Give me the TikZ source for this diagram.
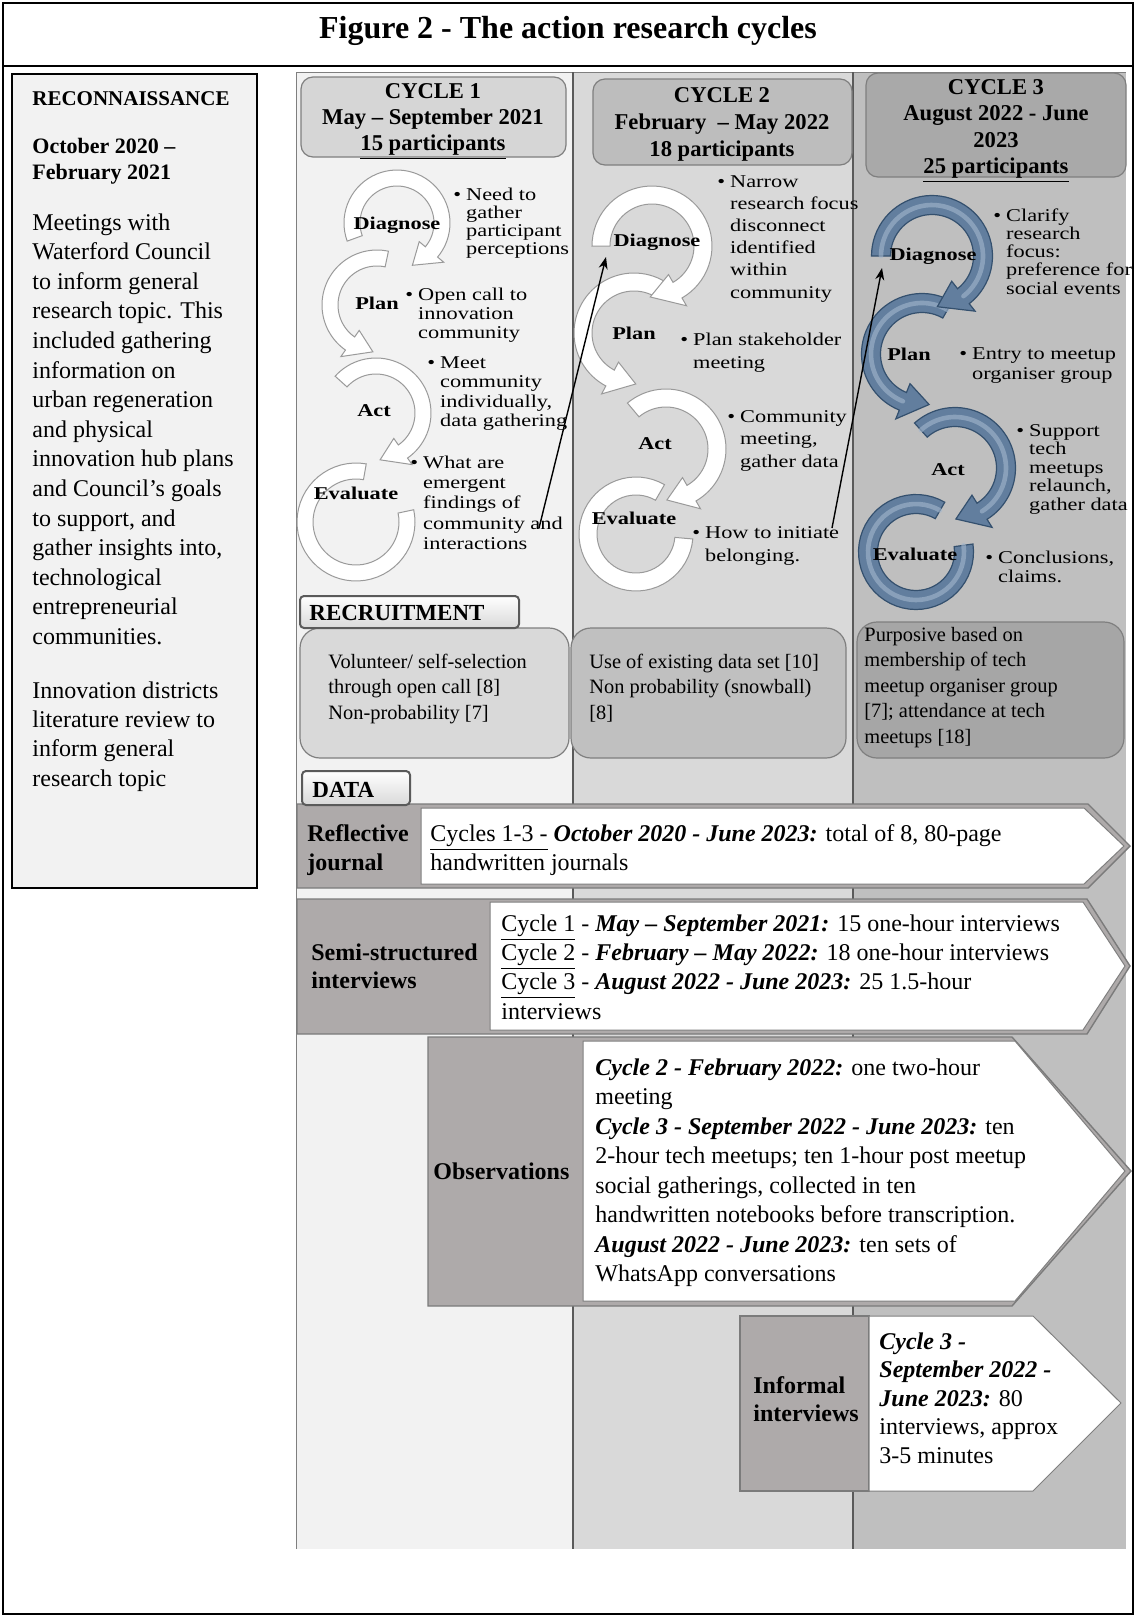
\documentclass[tikz,border=0pt]{standalone}
\usepackage{fontspec}
\setmainfont{Liberation Serif}
\newfontfamily\wideserif[FakeStretch=1.24]{Liberation Serif}
\usetikzlibrary{arrows.meta}

\definecolor{colA}{HTML}{F2F2F2}
\definecolor{colB}{HTML}{D9D9D9}
\definecolor{colC}{HTML}{BFBFBF}
\definecolor{hdrA}{HTML}{D6D6D6}
\definecolor{hdrB}{HTML}{BDBDBD}
\definecolor{hdrC}{HTML}{A9A9A9}
\definecolor{recA}{HTML}{D9D9D9}
\definecolor{recB}{HTML}{C0C0C0}
\definecolor{recC}{HTML}{A6A6A6}
\definecolor{labgray}{HTML}{AEAAAA}
\definecolor{edge}{HTML}{7F7F7F}
\definecolor{divider}{HTML}{5A5A5A}
\definecolor{ringline}{HTML}{9A9A9A}
\definecolor{ringblue}{HTML}{627E9E}
\definecolor{ringblueedge}{HTML}{34506E}
\definecolor{ringbluelight}{HTML}{A3B7CD}

% font size helper
\newcommand\fs[2]{\fontsize{#1}{#2}\selectfont}
% stacked lines, baseline on the first line
\newcommand\lines[1]{\begin{tabular}[t]{@{}l@{}}#1\end{tabular}}
\newcommand\clines[1]{\begin{tabular}[t]{@{}c@{}}#1\end{tabular}}
% bulleted block with hanging indent
\newcommand\blist[1]{\begin{tabular}[t]{@{}l@{\hspace{2.5pt}}l@{}}#1\end{tabular}}
\newcommand\bdit[1]{{\bfseries\itshape #1}}

% thick circular arrow: cx, cy, radius, width, start, end, tip angle, style
\newcommand\ringarrow[8]{%
  \pgfmathsetmacro\rgO{#3+#4/2}%
  \pgfmathsetmacro\rgI{#3-#4/2}%
  \pgfmathsetmacro\rgHO{#3+#4}%
  \pgfmathsetmacro\rgHI{#3-#4}%
  \path[#8] plot[domain=#5:#6, samples=48] ({#1+\rgO*cos(\x)},{#2+\rgO*sin(\x)})
    -- ({#1+\rgHO*cos(#6)},{#2+\rgHO*sin(#6)})
    -- ({#1+#3*cos(#7)},{#2+#3*sin(#7)})
    -- ({#1+\rgHI*cos(#6)},{#2+\rgHI*sin(#6)})
    -- plot[domain=#6:#5, samples=48] ({#1+\rgI*cos(\x)},{#2+\rgI*sin(\x)}) -- cycle;}
% thick arc without a head: cx, cy, radius, width, start, end, style
\newcommand\ringflat[7]{%
  \pgfmathsetmacro\rgO{#3+#4/2}%
  \pgfmathsetmacro\rgI{#3-#4/2}%
  \path[#7] plot[domain=#5:#6, samples=48] ({#1+\rgO*cos(\x)},{#2+\rgO*sin(\x)})
    -- plot[domain=#6:#5, samples=48] ({#1+\rgI*cos(\x)},{#2+\rgI*sin(\x)}) -- cycle;}
% highlight along the middle of a blue arc
\newcommand\ringglow[5]{%
  \draw[ringbluelight, line width=2.3pt, opacity=.6, line cap=round]
    plot[domain=#4:#5, samples=48] ({#1+#3*cos(\x)},{#2+#3*sin(\x)});}

\tikzset{
  txt/.style={inner sep=0pt, anchor=base west},
  ctxt/.style={inner sep=0pt, anchor=base},
  hdr/.style={draw=edge, line width=0.6pt, rounded corners=6pt},
  recbox/.style={draw=edge, line width=0.6pt, rounded corners=10pt},
  tabbox/.style={draw=divider, line width=1pt, rounded corners=2pt, top color=white, bottom color=colB},
  whitering/.style={fill=white, draw=ringline, line width=0.5pt},
  bluering/.style={fill=ringblue, draw=ringblueedge, line width=0.6pt},
  bul/.style={inner sep=0pt, anchor=base west},
  steplab/.style={inner sep=0pt, anchor=base, font={\wideserif\bfseries\fs{9}{10}}},
  rowouter/.style={fill=labgray, draw=divider!80, line width=0.7pt},
  rowinner/.style={fill=white, draw=edge, line width=0.5pt},
  rowlab/.style={inner sep=0pt, anchor=base west, font={\bfseries\fs{12}{14}}},
  rowtxt/.style={inner sep=0pt, anchor=base west, font={\fs{12}{14.4}}},
  link/.style={-{Stealth[length=6pt,width=4.5pt]}, line width=0.7pt, black}
}

\begin{document}
\begin{tikzpicture}[x=0.5pt,y=-0.5pt]
\useasboundingbox (0,0) rectangle (1136,1617);
\fill[white] (0,0) rectangle (1136,1617);

% outer frame and title row
\draw[line width=1.1pt] (3,3) rectangle (1133,1614);
\draw[line width=1.1pt] (3,66) -- (1133,66);
\node[ctxt, font={\bfseries\fs{16}{19}}] (title) at (568,38) {Figure 2 - The action research cycles};

% reconnaissance panel
\draw[line width=1pt, fill=colA] (12,74) rectangle (257,888);
\node[txt, font={\bfseries\fs{10.5}{13}}] (recon) at (32,105) {RECONNAISSANCE};
\node[txt, font={\bfseries\fs{11}{13}}] (recondate) at (32,153) {\lines{October 2020 –\\February 2021}};
\node[txt, font={\fs{12}{14.8}}] (reconbody) at (32,230) {\lines{Meetings with\\Waterford Council\\to inform general\\research topic. This\\included gathering\\information on\\urban regeneration\\and physical\\innovation hub plans\\and Council’s goals\\to support, and\\gather insights into,\\technological\\entrepreneurial\\communities.}};
\node[txt, font={\fs{12}{14.7}}] (reconlit) at (32,698) {\lines{Innovation districts\\literature review to\\inform general\\research topic}};

% three cycle columns
\fill[colA] (296,72) rectangle (573,1549);
\fill[colB] (573,72) rectangle (853,1549);
\fill[colC] (853,72) rectangle (1126,1549);
\draw[edge, line width=0.5pt] (296,1549) -- (296,72) -- (1126,72);
\draw[divider, line width=1.1pt] (573,72) -- (573,1549);
\draw[divider, line width=1.1pt] (853,72) -- (853,1549);

% cycle headers
\draw[hdr, fill=hdrA] (301,77) rectangle (566,157);
\node[ctxt, font={\bfseries\fs{11.3}{13.2}}] (head1) at (433,98) {\clines{CYCLE 1\\May – September 2021\\\underline{15 participants}}};
\draw[hdr, fill=hdrB] (593,79) rectangle (852,165);
\node[ctxt, font={\bfseries\fs{11.3}{13.5}}] (head2) at (722,102) {\clines{CYCLE 2\\February \ – May 2022\\18 participants}};
\draw[hdr, fill=hdrC] (866,73) rectangle (1126,177);
\node[ctxt, font={\bfseries\fs{11.3}{13.3}}] (head3) at (996,94) {\clines{CYCLE 3\\August 2022 - June\\2023\\\underline{25 participants}}};

% cycle 1 arrows
\ringflat{356}{522}{51}{16}{280}{-12}{whitering}
\ringarrow{376}{413}{47}{16}{222}{415}{445}{whitering}
\ringarrow{377}{305}{47}{16}{282}{125}{95}{whitering}
\ringarrow{397}{223}{45}{16}{160}{400}{430}{whitering}
\node[steplab] (c1d) at (397,229) {Diagnose};
\node[steplab] (c1p) at (377,309) {Plan};
\node[steplab] (c1a) at (374,416) {Act};
\node[steplab] (c1e) at (356,499) {Evaluate};
\node[bul, font={\wideserif\fs{9}{9}}] (c1b1) at (453,200) {\blist{•&Need to\\&gather\\&participant\\&perceptions}};
\node[bul, font={\wideserif\fs{9}{9.5}}] (c1b2) at (405,300) {\blist{•&Open call to\\&innovation\\&community}};
\node[bul, font={\wideserif\fs{9}{9.75}}] (c1b3) at (427,368) {\blist{•&Meet\\&community\\&individually,\\&data gathering}};
\node[bul, font={\wideserif\fs{9}{10.2}}] (c1b4) at (410,468) {\blist{•&What are\\&emergent\\&findings of\\&community and\\&interactions}};

% cycle 2 arrows
\ringflat{636}{534}{48}{18}{300}{5}{whitering}
\ringarrow{666}{449}{51}{18}{230}{420}{449}{whitering}
\ringarrow{634}{333}{51}{18}{305}{118}{88}{whitering}
\ringarrow{652}{246}{51}{18}{180}{420}{452}{whitering}
\node[steplab] (c2d) at (657,246) {Diagnose};
\node[steplab] (c2p) at (634,339) {Plan};
\node[steplab] (c2a) at (655,449) {Act};
\node[steplab] (c2e) at (634,524) {Evaluate};
\node[bul, font={\wideserif\fs{9}{11.1}}] (c2b1) at (717,187) {\blist{•&Narrow\\&research focus\\&disconnect\\&identified\\&within\\&community}};
\node[bul, font={\wideserif\fs{9}{11.5}}] (c2b2) at (680,345) {\blist{•&Plan stakeholder\\&meeting}};
\node[bul, font={\wideserif\fs{9}{11.25}}] (c2b3) at (727,422) {\blist{•&Community\\&meeting,\\&gather data}};
\node[bul, font={\wideserif\fs{9}{11.5}}] (c2b4) at (692,538) {\blist{•&How to initiate\\&belonging.}};

% cycle 3 arrows
\ringflat{916}{552}{48}{19}{300}{-8}{bluering}
\ringglow{916}{552}{48}{300}{-8}
\ringarrow{955}{468}{51}{19}{228}{418}{449}{bluering}
\ringglow{955}{468}{51}{228}{418}
\ringarrow{922}{354}{51}{19}{300}{112}{82}{bluering}
\ringglow{922}{354}{51}{300}{112}
\ringarrow{932}{256}{51}{19}{180}{412}{444}{bluering}
\ringglow{932}{256}{51}{180}{412}
\node[steplab] (c3d) at (933,260) {Diagnose};
\node[steplab] (c3p) at (909,360) {Plan};
\node[steplab] (c3a) at (948,475) {Act};
\node[steplab] (c3e) at (915,560) {Evaluate};
\node[bul, font={\wideserif\fs{9}{9.15}}] (c3b1) at (993,221) {\blist{•&Clarify\\&research\\&focus:\\&preference for\\&social events}};
\node[bul, font={\wideserif\fs{9}{10}}] (c3b2) at (959,359) {\blist{•&Entry to meetup\\&organiser group}};
\node[bul, font={\wideserif\fs{9}{9.25}}] (c3b3) at (1016,436) {\blist{•&Support\\&tech\\&meetups\\&relaunch,\\&gather data}};
\node[bul, font={\wideserif\fs{9}{9.5}}] (c3b4) at (985,563) {\blist{•&Conclusions,\\&claims.}};

% links from each evaluation to the next diagnosis
\coordinate (link1from) at (539,528);
\coordinate (link1to) at (606,257);
\coordinate (link2from) at (832,528);
\coordinate (link2to) at (882,268);
\draw[link] (link1from) -- (link1to);
\draw[link] (link2from) -- (link2to);

% recruitment
\draw[recbox, fill=recA] (300,628) rectangle (569,758);
\draw[recbox, fill=recB] (571,628) rectangle (846,758);
\draw[recbox, fill=recC] (857,622) rectangle (1124,758);
\draw[tabbox] (300,596) rectangle (519,628);
\node[txt, font={\bfseries\fs{11.5}{13}}] (recruit) at (309,620) {RECRUITMENT};
\node[txt, font={\fs{10.2}{12.8}}] (rec1) at (328,668) {\lines{Volunteer/ self-selection\\through open call [8]\\Non-probability [7]}};
\node[txt, font={\fs{10.2}{12.8}}] (rec2) at (589,668) {\lines{Use of existing data set [10]\\Non probability (snowball)\\{}[8]}};
\node[txt, font={\fs{10.2}{12.8}}] (rec3) at (864,641) {\lines{Purposive based on\\membership of tech\\meetup organiser group\\{}[7]; attendance at tech\\meetups [18]}};

% data: reflective journal
\draw[rowouter] (297,804) -- (1088,804) -- (1130,846) -- (1088,888) -- (297,888) -- cycle;
\draw[rowinner] (421,808) -- (1084,808) -- (1124,846) -- (1084,884) -- (421,884) -- cycle;
\node[rowlab, font={\bfseries\fs{12}{14.5}}] (reflab) at (307,841) {\lines{Reflective\\journal}};
\node[rowtxt] (reftxt) at (430,841) {\lines{\underline{Cycles 1-3 -} \bdit{October 2020 - June 2023:} total of 8, 80-page\\handwritten journals}};

% data: semi-structured interviews
\draw[rowouter] (297,899) -- (1087,899) -- (1130,966) -- (1087,1034) -- (297,1034) -- cycle;
\draw[rowinner] (490,902) -- (1083,902) -- (1125,966) -- (1083,1030) -- (490,1030) -- cycle;
\node[rowlab] (semilab) at (311,960) {\lines{Semi-structured\\interviews}};
\node[rowtxt] (semitxt) at (501,931) {\lines{\underline{Cycle 1} - \bdit{May – September 2021:} 15 one-hour interviews\\\underline{Cycle 2} - \bdit{February – May 2022:} 18 one-hour interviews\\\underline{Cycle 3} - \bdit{August 2022 - June 2023:} 25 1.5-hour\\interviews}};

% data: observations
\draw[rowouter] (428,1037) -- (1012,1037) -- (1131,1171) -- (1012,1306) -- (428,1306) -- cycle;
\draw[rowinner] (583,1041) -- (1015,1041) -- (1125,1171) -- (1015,1301) -- (583,1301) -- cycle;
\node[rowlab] (obslab) at (433,1179) {Observations};
\node[rowtxt, font={\fs{12}{14.75}}] (obstxt) at (595,1075) {\lines{\bdit{Cycle 2 - February 2022:} one two-hour\\meeting\\\bdit{Cycle 3 - September 2022 - June 2023:} ten\\2-hour tech meetups; ten 1-hour post meetup\\social gatherings, collected in ten\\handwritten notebooks before transcription.\\\bdit{August 2022 - June 2023:} ten sets of\\WhatsApp conversations}};

% data: informal interviews
\draw[rowouter] (740,1316) rectangle (869,1491);
\draw[rowinner] (869,1316) -- (1033,1316) -- (1121,1403) -- (1033,1491) -- (869,1491) -- cycle;
\node[rowlab] (inflab) at (753,1393) {\lines{Informal\\interviews}};
\node[rowtxt, font={\fs{12}{14.25}}] (inftxt) at (879,1349) {\lines{\bdit{Cycle 3 -}\\\bdit{September 2022 -}\\\bdit{June 2023:} 80\\interviews, approx\\3-5 minutes}};

% data tab
\draw[tabbox] (302,771) rectangle (410,805);
\node[txt, font={\bfseries\fs{11.5}{13}}] (datatab) at (312,797) {DATA};
\end{tikzpicture}
\end{document}
